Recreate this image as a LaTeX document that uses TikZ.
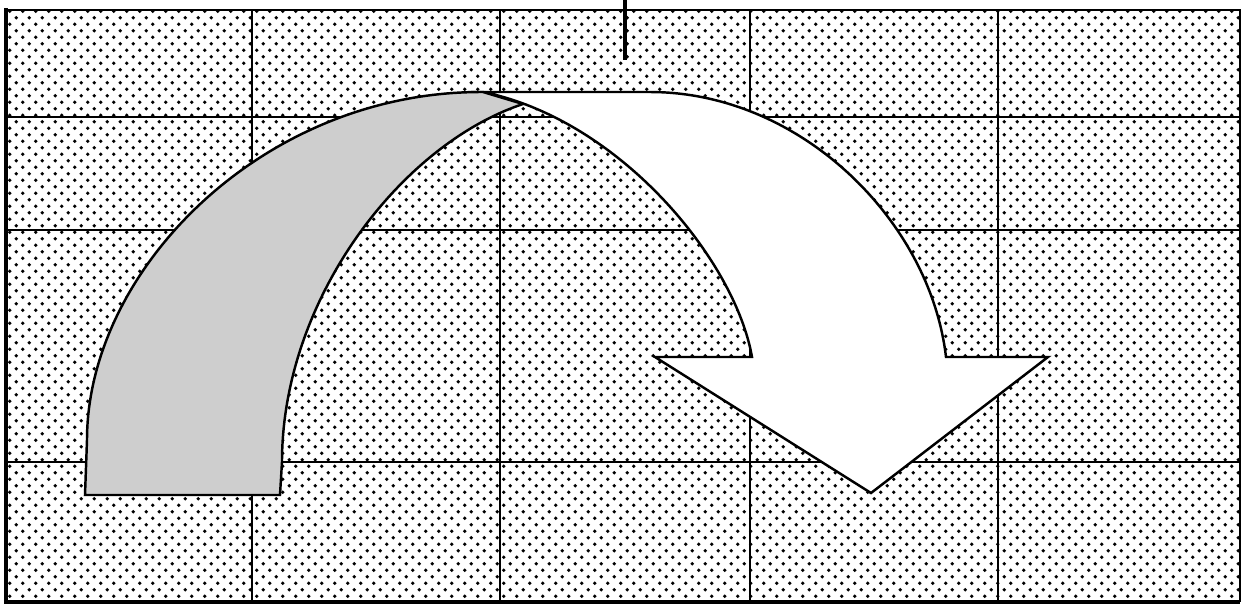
\documentclass[tikz,border=0pt]{standalone}
\usetikzlibrary{patterns}
\definecolor{tailgray}{RGB}{206,206,206}
\pgfdeclarepatternformonly{chartdots}{\pgfpointorigin}{\pgfqpoint{3.83pt}{3.83pt}}{\pgfqpoint{3.83pt}{3.83pt}}{%
  \pgfpathcircle{\pgfqpoint{0.96pt}{0.96pt}}{0.55pt}%
  \pgfpathcircle{\pgfqpoint{2.87pt}{2.87pt}}{0.55pt}%
  \pgfusepath{fill}}

\begin{document}
\begin{tikzpicture}[x=0.01cm, y=-0.01cm,
  gridline/.style={line width=0.7pt},
  ribbon/.style={draw, line width=0.7pt, line join=miter}]
\useasboundingbox (0,0) rectangle (1244,605);
\fill[white] (0,0) rectangle (1244,605);
\fill[pattern=chartdots] (8,10) rectangle (1240,602);
% grid
\foreach \y in {117,230,462} \draw[gridline] (8,\y) -- (1240,\y);
\foreach \x in {252,500,750,998} \draw[gridline] (\x,10) -- (\x,602);
% frame
\draw[line width=0.7pt] (6,10) -- (1240,10) -- (1240,602);
\draw[line width=1.4pt] (6,8) -- (6,602);
\draw[line width=1.1pt] (4,602) -- (1240,602);
\draw[line width=1.4pt] (625,0) -- (625,60);
% arrow
\coordinate (join) at (483,92);
\coordinate (meet) at (523,104);
\draw[ribbon, fill=white] (join) -- (650,92) .. controls (800,92) and (930,220) .. (946,357)
  -- (1048,357) -- (871,493) -- (655,357) -- (752,357)
  .. controls (735,260) and (620,120) .. (join) -- cycle;
\draw[ribbon, fill=tailgray] (85,495) -- (87,440) .. controls (87,270) and (263,91) .. (join)
  -- (meet) .. controls (400,145) and (282,300) .. (282,462) -- (280,495) -- cycle;
\end{tikzpicture}
\end{document}
